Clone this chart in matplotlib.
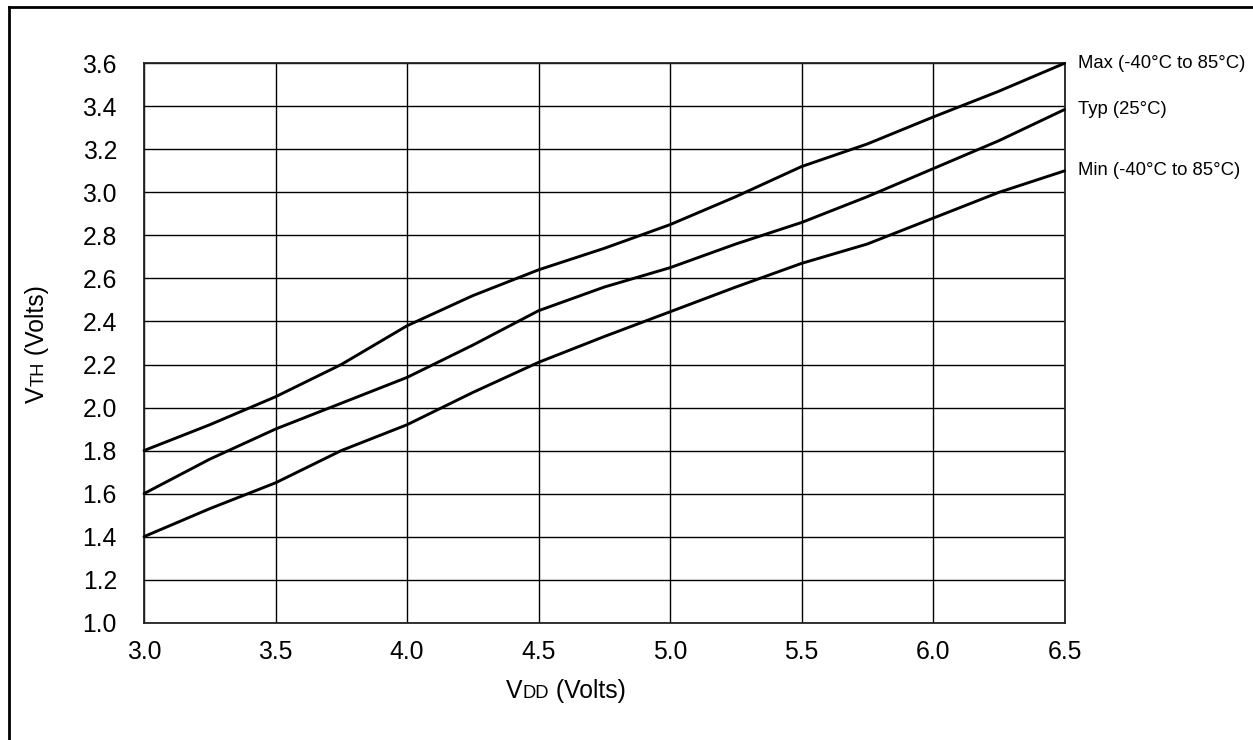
import matplotlib
matplotlib.use("Agg")
import matplotlib.pyplot as plt
from matplotlib.lines import Line2D

plt.rcParams['font.family'] = ['Liberation Sans', 'DejaVu Sans']

vdd = [3.0, 3.25, 3.5, 3.75, 4.0, 4.25, 4.5, 4.75, 5.0, 5.25, 5.5, 5.75, 6.0, 6.25, 6.5]
vth_max = [1.80, 1.92, 2.05, 2.20, 2.38, 2.52, 2.64, 2.74, 2.85, 2.98, 3.12, 3.225, 3.35, 3.47, 3.60]
vth_typ = [1.60, 1.76, 1.90, 2.02, 2.14, 2.29, 2.45, 2.56, 2.65, 2.76, 2.86, 2.98, 3.11, 3.24, 3.385]
vth_min = [1.40, 1.53, 1.65, 1.80, 1.92, 2.07, 2.21, 2.33, 2.445, 2.56, 2.67, 2.76, 2.88, 3.00, 3.10]
curve_labels = ["Max (-40°C to 85°C)", "Typ (25°C)", "Min (-40°C to 85°C)"]

x_ticks = [3.0, 3.5, 4.0, 4.5, 5.0, 5.5, 6.0, 6.5]
y_ticks = [1.0, 1.2, 1.4, 1.6, 1.8, 2.0, 2.2, 2.4, 2.6, 2.8, 3.0, 3.2, 3.4, 3.6]

BIG = 17.8
SMALL = 13.2


def small_caps_label(fig, x, y, parts, rotation=0):
    # pieces share one baseline; "V" full size, the subscript letters smaller
    renderer = fig.canvas.get_renderer()
    W, H = fig.bbox.width, fig.bbox.height
    for text, size in parts:
        t = fig.text(x, y, text, fontsize=size, rotation=rotation, rotation_mode='anchor',
                     ha='left', va='baseline')
        bb = t.get_window_extent(renderer)
        if rotation == 0:
            x = bb.x1 / W
        else:
            y = bb.y1 / H


def plot():
    W, H = 1253, 740
    fig = plt.figure(figsize=(W / 100, H / 100), dpi=100)
    ax = fig.add_axes([144 / W, 1 - 622.7 / H, (1064.5 - 144) / W, (622.7 - 63.3) / H])

    for ys in (vth_max, vth_typ, vth_min):
        ax.plot(vdd, ys, color='black', lw=2.1, solid_capstyle='round',
                solid_joinstyle='round', zorder=3, clip_on=False)

    for lab, ys in zip(curve_labels, (vth_max, vth_typ, vth_min)):
        ax.annotate(lab, xy=(vdd[-1], ys[-1]), xytext=(9.5, 0), textcoords='offset points',
                    fontsize=13.3, ha='left', va='center', annotation_clip=False)

    ax.set_xlim(3.0, 6.5)
    ax.set_ylim(1.0, 3.6)
    ax.set_xticks(x_ticks)
    ax.set_xticklabels([f"{v:.1f}" for v in x_ticks])
    ax.set_yticks(y_ticks)
    ax.set_yticklabels([f"{v:.1f}" for v in y_ticks])
    ax.tick_params(axis='both', length=0, labelsize=BIG)
    ax.tick_params(axis='x', pad=12.5)
    ax.tick_params(axis='y', pad=19.5)
    ax.grid(True, color='black', lw=1.0)
    ax.set_axisbelow(True)
    for sp in ax.spines.values():
        sp.set_linewidth(1.3)
        sp.set_color('#222222')

    small_caps_label(fig, 506 / W, 1 - 698 / H, [("V", BIG), ("DD", SMALL), (" (Volts)", BIG)])
    small_caps_label(fig, 43.5 / W, 1 - 403 / H, [("V", BIG), ("TH", SMALL), (" (Volts)", BIG)],
                     rotation=90)

    # outer frame, only top and left edges visible
    fig.add_artist(Line2D([9 / W, 9 / W], [0, 1 - 7 / H], color='black', lw=2.0,
                          transform=fig.transFigure))
    fig.add_artist(Line2D([9 / W, 1], [1 - 7 / H, 1 - 7 / H], color='black', lw=2.0,
                          transform=fig.transFigure))

    fig.savefig("out.png", dpi=100)


if __name__ == "__main__":
    plot()
